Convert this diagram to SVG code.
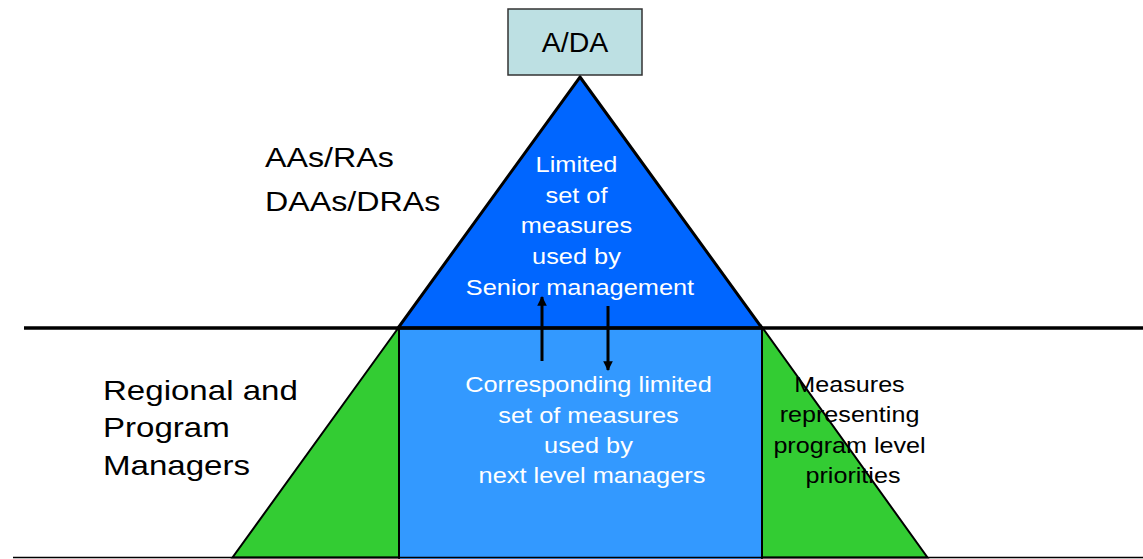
<svg xmlns="http://www.w3.org/2000/svg" width="1143" height="559" viewBox="0 0 1143 559">
<style>
  text { font-family: "Liberation Sans", Arial, sans-serif; }
  .side { font-size: 28.5px; fill: #000; }
  .inner { font-size: 21.5px; fill: #fff; }
  .dark { font-size: 21.5px; fill: #000; }
  .shape { stroke: #000; stroke-linejoin: miter; }
  .conn { stroke: #000; stroke-width: 3; fill: none; }
</style>
<defs>
  <marker id="ah" viewBox="0 0 10 10" refX="9" refY="5" markerWidth="3.4" markerHeight="3.2" markerUnits="strokeWidth" orient="auto">
    <path d="M0,0 L10,5 L0,10 Z" fill="#000"/>
  </marker>
</defs>
<rect width="1143" height="559" fill="#fff"/>

<g id="middle-band">
  <rect x="399" y="327" width="363" height="234" fill="#3399FF" class="shape" stroke-width="1.5"/>
</g>
<g id="left-green">
  <polygon points="399,327 232.5,557.5 399,557.5" fill="#33CC33" class="shape" stroke-width="2"/>
</g>
<g id="right-green">
  <polygon points="762,327 927.5,557.5 762,557.5" fill="#33CC33" class="shape" stroke-width="2"/>
</g>
<g id="top-triangle">
  <polygon points="580,77 762,328 398,328" fill="#0066FF" class="shape" stroke-width="3"/>
</g>

<g id="lines">
  <line x1="24" y1="328" x2="1143" y2="328" stroke="#000" stroke-width="3.5"/>
  <line x1="13" y1="557.5" x2="1143" y2="557.5" stroke="#000" stroke-width="1.5"/>
</g>

<g id="apex-box">
  <rect x="508" y="9" width="134" height="66" fill="#BDE0E3" stroke="#333" stroke-width="1.5"/>
  <text x="575" y="52" class="side" text-anchor="middle">A/DA</text>
</g>

<g id="senior-label">
  <text class="side" transform="translate(265,0) scale(1.13,1)">
    <tspan x="0" y="167">AAs/RAs</tspan>
    <tspan x="0" y="211.5">DAAs/DRAs</tspan>
  </text>
</g>

<g id="regional-label">
  <text class="side" transform="translate(103,0) scale(1.16,1)">
    <tspan x="0" y="400">Regional and</tspan>
    <tspan x="0" y="437.5">Program</tspan>
    <tspan x="0" y="475">Managers</tspan>
  </text>
</g>

<g id="top-text">
  <text class="inner" text-anchor="middle" transform="translate(580,0) scale(1.18,1)">
    <tspan x="0" y="172">Limited</tspan>
    <tspan x="0" y="203">set of</tspan>
    <tspan x="0" y="233.5">measures</tspan>
    <tspan x="0" y="264">used by</tspan>
    <tspan x="0" y="295">Senior management</tspan>
  </text>
</g>

<g id="middle-text">
  <text class="inner" text-anchor="middle" transform="translate(592,0) scale(1.18,1)">
    <tspan x="0" y="392">Corresponding limited</tspan>
    <tspan x="0" y="423">set of measures</tspan>
    <tspan x="0" y="453">used by</tspan>
    <tspan x="0" y="483.5">next level managers</tspan>
  </text>
</g>

<g id="right-text">
  <text class="dark" text-anchor="middle" transform="translate(853,0) scale(1.17,1)">
    <tspan x="0" y="392.5">Measures</tspan>
    <tspan x="0" y="422.5">representing</tspan>
    <tspan x="0" y="453">program level</tspan>
    <tspan x="0" y="483.5">priorities</tspan>
  </text>
</g>

<g id="connectors">
  <line x1="542" y1="361" x2="542" y2="297" class="conn" marker-end="url(#ah)"/>
  <line x1="608" y1="306" x2="608" y2="370" class="conn" marker-end="url(#ah)"/>
</g>
</svg>
